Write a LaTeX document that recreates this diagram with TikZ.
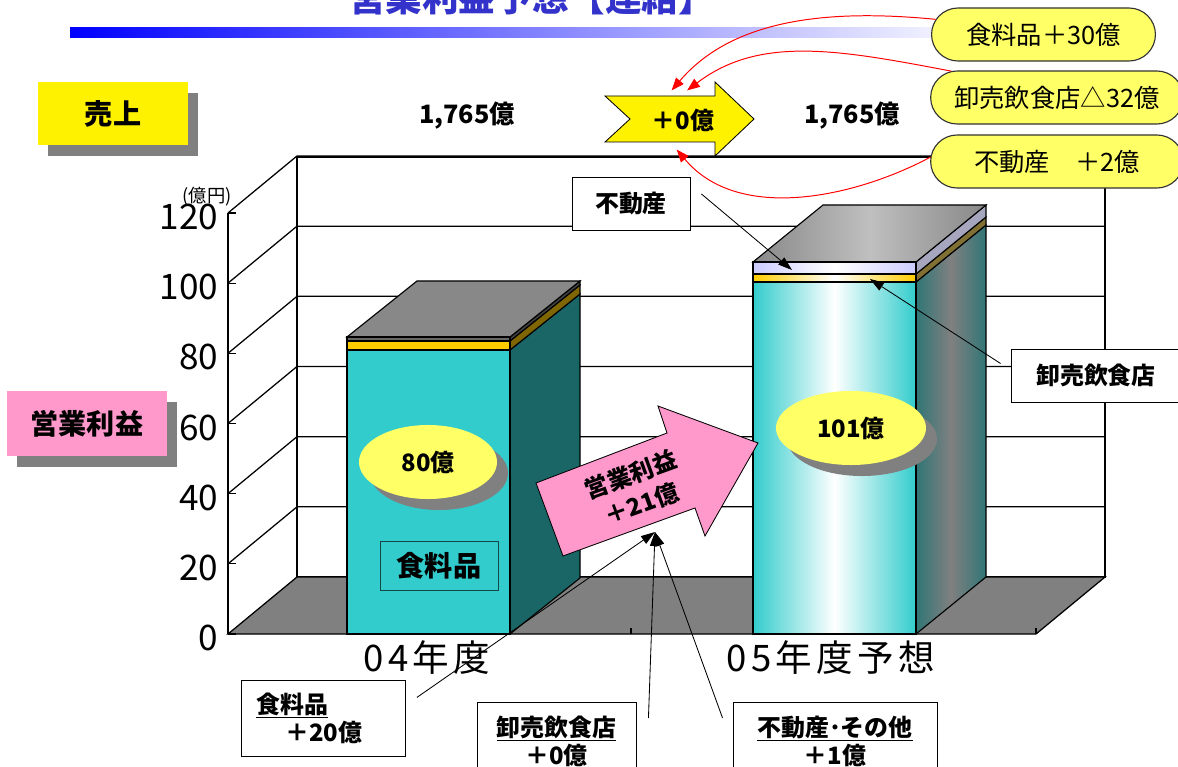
\documentclass[tikz,border=0pt]{standalone}
\usepackage{fontspec}
\setmainfont{Noto Sans CJK JP}
\usetikzlibrary{arrows.meta,shapes.geometric,shapes.misc,shadows,calc}
\definecolor{titleblue}{HTML}{3333CC}
\definecolor{barcyan}{HTML}{33CCCC}
\definecolor{barteal}{HTML}{1A6666}
\definecolor{bargold}{HTML}{FFCC00}
\definecolor{barolive}{HTML}{806600}
\definecolor{capgray}{HTML}{888888}
\definecolor{floorgray}{HTML}{808080}
\definecolor{shadowgray}{HTML}{808080}
\definecolor{pillyellow}{HTML}{FFFF66}
\definecolor{tagpink}{HTML}{FF99CC}
\definecolor{lavender}{HTML}{CCCCFF}
\newcommand{\fs}[2]{\fontsize{#1}{#2}\selectfont}
\tikzset{
    headbox/.style={fill=#1, minimum width=3.75cm, minimum height=1.575cm, font=\bfseries\fs{20}{24},
        drop shadow={shadow xshift=0.25cm, shadow yshift=-0.275cm, fill=shadowgray, opacity=1}},
    figure/.style={font=\bfseries\fs{17}{20}, inner sep=0pt},
    pill/.style={rounded rectangle, draw=black!80, line width=0.8pt, fill=pillyellow, minimum height=1.325cm, font=\fs{18}{20}},
    tag/.style={draw, fill=white, line width=0.6pt, font=\bfseries\fs{17}{20}, minimum height=1.325cm},
    bubble/.style={ellipse, fill=pillyellow, inner sep=0pt, minimum height=1.85cm, font=\bfseries\fs{17}{20},
        drop shadow={shadow xshift=0.275cm, shadow yshift=-0.275cm, fill=shadowgray, opacity=1}},
    ylab/.style={anchor=east, inner sep=0pt, font=\fs{25}{27}},
    cat/.style={font=\fs{26}{28}\addfontfeature{LetterSpace=12}},
    pointer/.style={line width=0.6pt, -{Triangle[length=10pt,width=6.5pt]}},
    redpointer/.style={red, line width=0.7pt, -{Triangle[length=9pt,width=7pt]}},
    wallline/.style={line width=0.9pt},
}
\begin{document}
\begin{tikzpicture}[x=0.025cm, y=-0.025cm, line width=0.8pt]
\useasboundingbox (0,0) rectangle (1178,767);
\node[anchor=base, text=titleblue, font=\bfseries\fs{26}{30}] (title) at (532,12) {営業利益予想【連結】};
\shade[left color=blue, right color=blue!5] (70,28) rectangle (940,38);

\node[headbox=yellow] (sales) at (113,113.5) {売上};
\node[headbox=tagpink, minimum width=4cm, minimum height=1.625cm] (profit) at (87,423.5) {営業利益};
\node[figure, font=\bfseries\fs{18}{20}] (sales04) at (467,116) {1,765億};
\node[figure, font=\bfseries\fs{18}{20}] (sales05) at (852,116) {1,765億};

\draw[wallline, fill=white] (297,157) rectangle (1105,577);
\filldraw[wallline, fill=floorgray] (228,634) -- (297,577) -- (1105,577) -- (1036,634) -- cycle;
\foreach \v in {1,...,6}
    \draw[wallline] (228,634-70.17*\v) -- (297,577-70.17*\v) -- (1105,577-70.17*\v);
\draw[line width=1.2pt] (228,213) -- (228,634);
\foreach \v in {0,...,6}
    \draw[wallline] (228,634-70.17*\v) -- (236,634-70.17*\v);
\foreach \v in {0,20,...,120}
    \node[ylab] (ylab\v) at (219,638-3.508*\v) {\v};
\node[font=\fs{13}{15}, inner sep=0pt] (unit) at (207,197) {(億円)};
\draw (631,634) -- (631,628);
\draw (1036,634) -- (1036,628);

\filldraw[fill=barteal] (510,634) -- (580,578) -- (580,294) -- (510,350) -- cycle;
\filldraw[fill=barolive] (510,350) -- (580,294) -- (580,285) -- (510,341) -- cycle;
\filldraw[fill=black!75] (510,341) -- (580,285) -- (580,281) -- (510,337) -- cycle;
\filldraw[fill=capgray] (347,337) -- (417,281) -- (580,281) -- (510,337) -- cycle;
\filldraw[fill=barcyan] (347,350) rectangle (510,634);
\filldraw[fill=bargold] (347,341) rectangle (510,350);
\filldraw[fill=black!60] (347,337) rectangle (510,341);

\shadedraw[left color=barteal!90, right color=barteal!90, middle color=floorgray] (916,634) -- (986,577) -- (986,225) -- (916,282) -- cycle;
\filldraw[fill=barolive!60!gray] (916,282) -- (986,225) -- (986,217) -- (916,274) -- cycle;
\filldraw[fill=lavender!50!gray] (916,274) -- (986,217) -- (986,205) -- (916,262) -- cycle;
\shadedraw[left color=capgray, right color=capgray, middle color=black!25] (753,262) -- (823,205) -- (986,205) -- (916,262) -- cycle;
\shadedraw[left color=barcyan, right color=barcyan, middle color=white] (753,282) rectangle (916,634);
\shadedraw[left color=bargold, right color=bargold, middle color=white] (753,274) rectangle (916,282);
\shadedraw[left color=lavender, right color=lavender, middle color=white] (753,262) rectangle (916,274);

\node[bubble, minimum width=3.45cm] (v04) at (428,462) {80億};
\node[bubble, minimum width=3.75cm] (v05) at (851,428) {101億};
\node[draw=barteal!70!black, line width=0.6pt, minimum width=2.95cm, minimum height=1.225cm, font=\bfseries\fs{20}{24}] (foodtag) at (439,565.5) {食料品};
\node[cat] (cat04) at (427,658) {04年度};
\node[cat] (cat05) at (831,658) {05年度予想};

\filldraw[fill=tagpink, line width=0.6pt] (563,556) -- (536,483) -- (667,433) -- (658,406) -- (758,443) -- (705,536) -- (695,508) -- cycle;
\node[rotate=20, align=center, font=\bfseries\fs{17}{22}] (gain) at (636,489) {営業利益\\＋21億};
\coordinate (gainfoot) at (655,532);

\node[tag, minimum width=2.95cm] (estatetag) at (631,204) {不動産};
\node[tag, minimum width=4.25cm] (wholetag) at (1096,375.5) {卸売飲食店};
\coordinate (estband) at (792,270);
\coordinate (wholeband) at (870,279);
\draw[pointer] ($(estatetag.east)+(11,-10)$) -- (estband);
\draw[pointer] ($(wholetag.west)+(-10,-12)$) -- (wholeband);

\node[tag, anchor=north west, text width=3.35cm, inner xsep=0.375cm, minimum height=1.9cm, align=left] (fooddiff) at (241,680) {\underline{食料品}\\\hspace*{1.2em}＋20億};
\node[tag, minimum width=3.975cm, minimum height=1.95cm, align=center] (wholediff) at (556.5,741) {\underline{卸売飲食店}\\＋0億};
\node[tag, minimum width=5.1cm, minimum height=1.95cm, align=center] (estatediff) at (835,741) {\underline{不動産･その他}\\＋1億};
\draw[pointer] ($(fooddiff.east)+(11,-21)$) -- (gainfoot);
\draw[pointer] ($(wholediff.east)+(12,-23)$) -- (gainfoot);
\draw[pointer] ($(estatediff.west)+(-10,-23)$) -- (gainfoot);

\filldraw[fill=yellow, line width=0.6pt] (605,96) -- (630,119) -- (605,142) -- (715,142) -- (715,156) -- (754,119) -- (715,82) -- (715,96) -- cycle;
\node[figure, minimum width=1.6cm, minimum height=1.45cm] (zero) at (683,120) {＋0億};

\node[pill, minimum width=5.83cm] (food) at (1043.5,34.5) {食料品＋30億};
\node[pill, minimum width=6.55cm] (whole) at (1057,97.5) {卸売飲食店△32億};
\node[pill, minimum width=6.55cm] (estate) at (1057,161.5) {不動産　＋2億};
\draw[redpointer] (food.172) .. controls (820,8) and (730,22) .. (zero.111);
\draw[redpointer] (whole.166) .. controls (840,50) and (760,35) .. (zero.82);
\draw[redpointer] (estate.178) .. controls (860,195) and (740,225) .. (zero.258);
\end{tikzpicture}
\end{document}
